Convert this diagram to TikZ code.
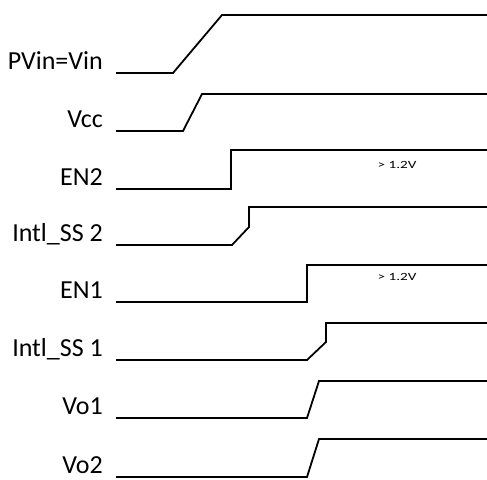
\documentclass[tikz,border=0pt]{standalone}
\usepackage{fontspec}
\usepackage{graphicx}
\setmainfont{Carlito}
\newcommand{\thrtext}[1]{\scalebox{1.38}[1]{\fontsize{11}{13}\selectfont #1}}
\begin{document}
\begin{tikzpicture}[x=1pt,y=-1pt,
  wave/.style={line width=1.8pt, black},
  siglabel/.style={anchor=base east, inner sep=0pt, font=\fontsize{26}{31}\selectfont},
  thr/.style={inner sep=0pt}]
\useasboundingbox (0,0) rectangle (487,479);
% labels
\node[siglabel] (lPVin) at (103,69) {PVin=Vin};
\node[siglabel] (lVcc) at (103,127) {Vcc};
\node[siglabel] (lEN2) at (103,185) {EN2};
\node[siglabel] (lSS2) at (103,241) {Intl\_SS 2};
\node[siglabel] (lEN1) at (103,298) {EN1};
\node[siglabel] (lSS1) at (103,356) {Intl\_SS 1};
\node[siglabel] (lVo1) at (103,414) {Vo1};
\node[siglabel] (lVo2) at (103,473) {Vo2};
% waveforms
\draw[wave] (116,73) -- (173,73) -- (222,15) -- (487,15);
\draw[wave] (116,131) -- (183,131) -- (202,94) -- (487,94);
\draw[wave] (116,189) -- (231,189) -- (231,150) -- (487,150);
\draw[wave] (116,245) -- (232,245) -- (249,227) -- (249,207) -- (487,207);
\draw[wave] (116,302) -- (307,302) -- (307,265) -- (487,265);
\draw[wave] (116,360) -- (307,360) -- (326,342) -- (326,323) -- (487,323);
\draw[wave] (116,418) -- (307,418) -- (319,381) -- (487,381);
\draw[wave] (116,477) -- (307,477) -- (319,439) -- (487,439);
% thresholds
\node[thr] (t2) at (397,165) {\thrtext{> 1.2V}};
\node[thr] (t1) at (397,277) {\thrtext{> 1.2V}};
\end{tikzpicture}
\end{document}
